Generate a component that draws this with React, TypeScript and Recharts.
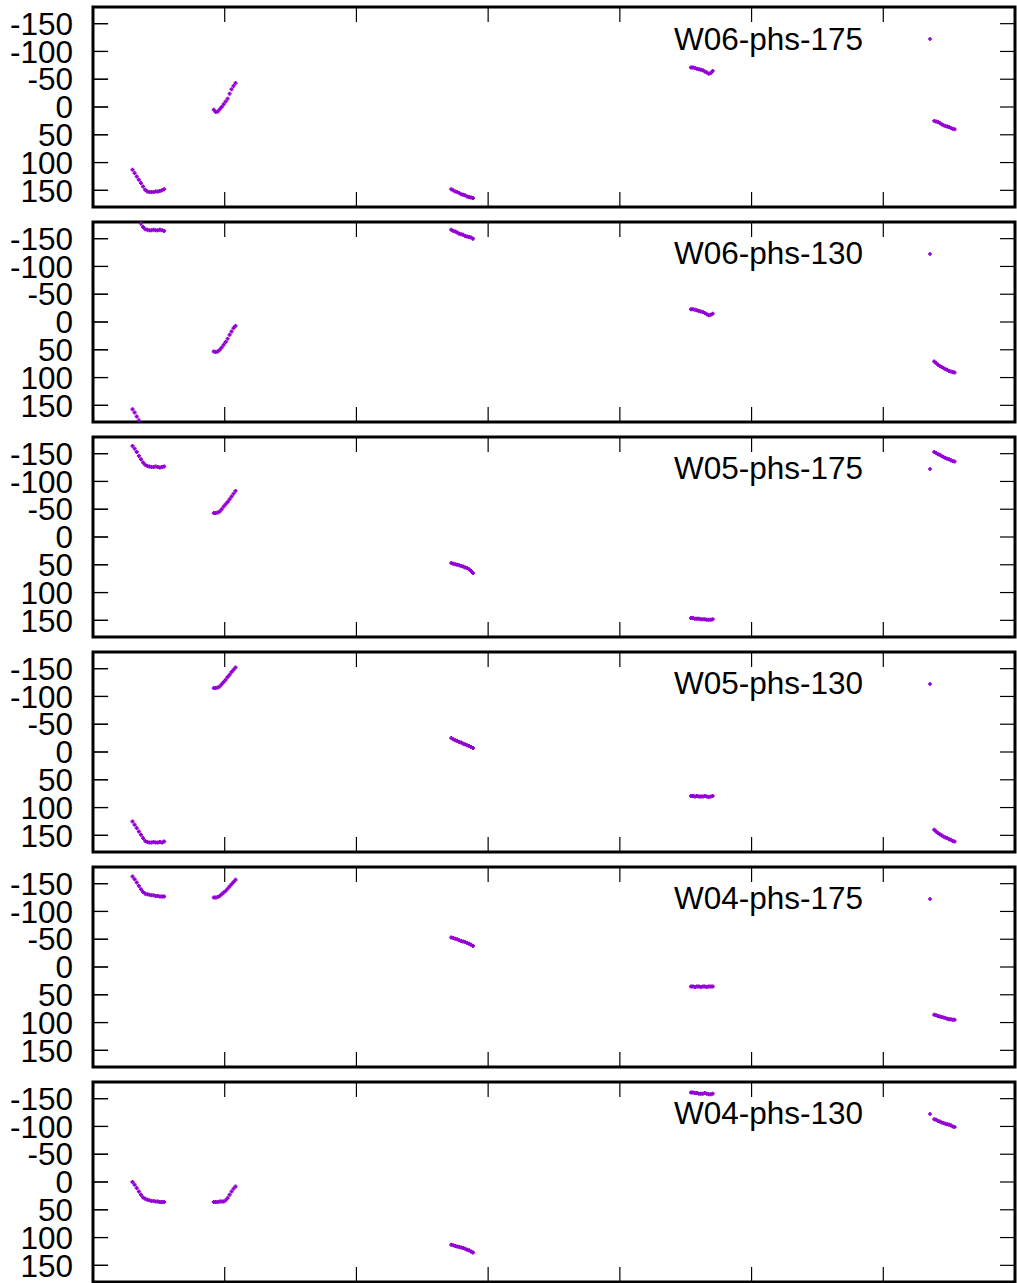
import React from "react";
import {
  ScatterChart,
  Scatter,
  XAxis,
  YAxis,
  ReferenceArea,
  ReferenceLine,
  Legend,
} from "recharts";

// sample times of the five scans (x units = one tick spacing)
const scan1T = [0.3, 0.316, 0.332, 0.348, 0.364, 0.38, 0.396, 0.412, 0.428, 0.444, 0.46, 0.476, 0.492, 0.508, 0.524, 0.54];
const scan2T = [0.917, 0.932, 0.947, 0.962, 0.977, 0.992, 1.007, 1.022, 1.037, 1.052, 1.067, 1.082];
const scan3T = [2.72, 2.735, 2.75, 2.765, 2.78, 2.795, 2.81, 2.825, 2.84, 2.855, 2.87, 2.885];
const scan4T = [4.54, 4.555, 4.57, 4.585, 4.6, 4.615, 4.63, 4.645, 4.66, 4.675, 4.69, 4.705];
const scan5T = [6.387, 6.401, 6.415, 6.429, 6.443, 6.457, 6.471, 6.485, 6.499, 6.513, 6.527, 6.541];

const xTicks = [1, 2, 3, 4, 5, 6];
const yTicks = [-150, -100, -50, 0, 50, 100, 150];

// phase (deg) per baseline, scans 1..5 in order
const w06p175 = [
  113, 119, 125, 131, 137, 143, 149, 152, 153, 153, 153, 152, 152, 151, 150, 148,
  5, 9, 8, 4, 0, -5, -10, -15, -24, -32, -38, -43,
  148, 150, 152, 153, 155, 157, 158, 159, 161, 162, 163, 164,
  -71, -71, -70, -69, -68, -67, -66, -64, -62, -60, -61, -65,
  25, 26, 27, 29, 31, 33, 34, 35, 36, 38, 39, 40,
];
const w06p130 = [
  157, 163, 170, 177, -177, -171, -167, -166, -165, -165, -166, -165, -165, -166, -165, -164,
  53, 54, 53, 50, 46, 41, 36, 30, 23, 17, 11, 7,
  -166, -164, -163, -161, -159, -158, -157, -155, -154, -153, -152, -150,
  -23, -23, -22, -21, -20, -19, -18, -16, -14, -12, -13, -15,
  71, 74, 77, 79, 81, 83, 85, 86, 88, 89, 90, 91,
];
const w05p175 = [
  -164, -159, -153, -146, -140, -134, -130, -128, -127, -126, -126, -127, -126, -125, -126, -127,
  -43, -43, -44, -46, -50, -55, -59, -63, -68, -73, -78, -83,
  47, 48, 49, 50, 51, 52, 53, 55, 56, 58, 61, 65,
  146, 146, 147, 147, 147, 148, 148, 148, 149, 149, 149, 148,
  -153, -151, -149, -148, -146, -144, -142, -141, -140, -138, -137, -136,
];
const w05p130 = [
  125, 131, 137, 143, 149, 155, 160, 162, 163, 163, 162, 163, 163, 162, 163, 161,
  -115, -115, -116, -118, -122, -126, -130, -135, -139, -144, -148, -152,
  -25, -23, -21, -20, -18, -17, -15, -14, -12, -11, -9, -7,
  79, 79, 80, 79, 80, 80, 80, 79, 80, 81, 80, 79,
  140, 143, 146, 148, 150, 152, 154, 155, 157, 158, 160, 161,
];
const w04p175 = [
  -163, -158, -152, -146, -140, -135, -132, -131, -130, -129, -129, -128, -128, -127, -127, -127,
  -125, -125, -126, -128, -131, -134, -137, -141, -145, -149, -153, -157,
  -53, -52, -51, -50, -48, -47, -46, -45, -43, -42, -40, -38,
  35, 35, 36, 35, 35, 36, 35, 35, 36, 35, 35, 35,
  86, 87, 88, 89, 90, 91, 92, 93, 94, 94, 95, 95,
];
const w04p130 = [
  0, 5, 11, 17, 23, 28, 30, 32, 33, 34, 34, 35, 35, 36, 36, 36,
  36, 36, 36, 35, 35, 35, 33, 29, 23, 17, 12, 8,
  113, 114, 115, 116, 117, 118, 119, 120, 122, 123, 125, 127,
  -161, -161, -160, -160, -159, -159, -159, -160, -159, -158, -158, -159,
  -113, -112, -110, -109, -107, -106, -105, -104, -103, -102, -100, -99,
];

const panelNames = ["W06-phs-175", "W06-phs-130", "W05-phs-175", "W05-phs-130", "W04-phs-175", "W04-phs-130"];
const panelValues = [w06p175, w06p130, w05p175, w05p130, w04p175, w04p130];

const allTimes = [...scan1T, ...scan2T, ...scan3T, ...scan4T, ...scan5T];

const W = 1017;
const H = 215;
const PITCH = 214.9;
const COLOR = "#9400D3";
const FONT = "'Liberation Sans', Arial, sans-serif";
const FS = 31.5;
const TL = 15; // inward tick length (px)
const TL_X = 0.115; // same length for the left ticks, in x units
const LABEL_GAP = 20;

// small "+" like gnuplot point
const PlusDot = (props: any) => {
  const { cx, cy } = props;
  if (cx == null || cy == null) return null;
  return (
    <path
      d={`M${cx - 2},${cy}h4M${cx},${cy - 2}v4`}
      stroke={COLOR}
      strokeWidth={1.9}
    />
  );
};

const NoDot = () => <g />;

const LeftLabel = (props: any) => (
  <text
    x={Number(props.x)}
    y={Number(props.y)}
    dy={FS * 0.355}
    textAnchor="end"
    fill="#000"
    fontSize={FS}
    fontFamily={FONT}
  >
    {props.payload.value}
  </text>
);

// mirrored left axis sits on the plot's left edge: tick goes inward (right)
const LeftInTick = (props: any) => {
  const x = Number(props.x);
  const y = Number(props.y);
  return <line x1={x} x2={x + TL} y1={y} y2={y} stroke="#000" strokeWidth={1.2} />;
};

const RightTick = (props: any) => {
  const x = Number(props.x);
  const y = Number(props.y);
  return <line x1={x} x2={x - TL} y1={y} y2={y} stroke="#000" strokeWidth={1.2} />;
};

const BottomTick = (props: any) => {
  const x = Number(props.x);
  const y = Number(props.y);
  return <line x1={x} x2={x} y1={y} y2={y - TL} stroke="#000" strokeWidth={1.2} />;
};

const TopTick = (props: any) => {
  const x = Number(props.x);
  const y = Number(props.y);
  return <line x1={x} x2={x} y1={y} y2={y + TL} stroke="#000" strokeWidth={1.2} />;
};

const KeyBox = ({ payload, name }: any) => {
  const label = payload?.[0]?.value ?? name;
  return (
    <div style={{ position: "relative", width: "100%", height: "100%" }}>
      <span
        style={{
          position: "absolute",
          right: W - 863,
          top: 23.5,
          fontSize: FS,
          lineHeight: 1,
          fontFamily: FONT,
          color: "#000",
          whiteSpace: "nowrap",
        }}
      >
        {label}
      </span>
      <svg style={{ position: "absolute", left: 926, top: 35 }} width={8} height={8}>
        <path d="M2,4h4M4,2v4" stroke={COLOR} strokeWidth={1.6} />
      </svg>
    </div>
  );
};

function Panel({ name, values, index }: { name: string; values: number[]; index: number }) {
  const data = allTimes.map((t, i) => ({ t, v: values[i] }));
  return (
    <div style={{ position: "absolute", left: 0, top: index * PITCH, width: W, height: H }}>
      <ScatterChart width={W} height={H} margin={{ top: 6, right: 1, bottom: 7, left: 13 }}>
        <XAxis
          xAxisId="b"
          type="number"
          dataKey="t"
          domain={[0, 7]}
          ticks={xTicks}
          interval={0}
          height={1}
          tickSize={0}
          tickMargin={0}
          tick={<BottomTick />}
          tickLine={false}
          axisLine={false}
        />
        <XAxis
          xAxisId="t"
          orientation="top"
          type="number"
          dataKey="t"
          domain={[0, 7]}
          ticks={xTicks}
          interval={0}
          height={1}
          tickSize={0}
          tickMargin={0}
          tick={<TopTick />}
          tickLine={false}
          axisLine={false}
        />
        <YAxis
          yAxisId="l"
          type="number"
          dataKey="v"
          domain={[-180, 180]}
          reversed
          ticks={yTicks}
          interval={0}
          width={80}
          tickSize={0}
          tickMargin={LABEL_GAP}
          tick={<LeftLabel />}
          tickLine={false}
          axisLine={false}
        />
        <YAxis
          yAxisId="lm"
          orientation="left"
          mirror
          type="number"
          dataKey="v"
          domain={[-180, 180]}
          reversed
          ticks={yTicks}
          interval={0}
          width={1}
          tickSize={0}
          tickMargin={0}
          tick={<LeftInTick />}
          tickLine={false}
          axisLine={false}
        />
        <YAxis
          yAxisId="r"
          orientation="right"
          type="number"
          dataKey="v"
          domain={[-180, 180]}
          reversed
          ticks={yTicks}
          interval={0}
          width={1}
          tickSize={0}
          tickMargin={0}
          tick={<RightTick />}
          tickLine={false}
          axisLine={false}
        />
        {/* inward ticks on the left edge, drawn in data space as well */}
        {yTicks.map((v) => (
          <ReferenceLine
            key={v}
            xAxisId="b"
            yAxisId="l"
            segment={[{ x: 0, y: v }, { x: TL_X, y: v }]}
            stroke="#000"
            strokeWidth={1.2}
            ifOverflow="visible"
          />
        ))}
        <ReferenceArea
          xAxisId="b"
          yAxisId="l"
          x1={0}
          x2={7}
          y1={-180}
          y2={180}
          fill="none"
          fillOpacity={0}
          stroke="#000"
          strokeWidth={3}
        />
        <Legend
          layout="vertical"
          align="center"
          verticalAlign="middle"
          wrapperStyle={{ position: "absolute", left: 0, top: 0, width: W, height: H, pointerEvents: "none" }}
          content={(p: any) => <KeyBox {...p} name={name} />}
        />
        <Scatter
          xAxisId="b"
          yAxisId="l"
          name={name}
          data={data}
          fill={COLOR}
          shape={<PlusDot />}
          isAnimationActive={false}
        />
        {/* same data bound to the mirror axes so they get ticks; draws nothing */}
        <Scatter
          xAxisId="t"
          yAxisId="r"
          name={name + " mirror"}
          data={data}
          fill="none"
          legendType="none"
          shape={<NoDot />}
          isAnimationActive={false}
        />
        <Scatter
          xAxisId="b"
          yAxisId="lm"
          name={name + " mirror left"}
          data={data}
          fill="none"
          legendType="none"
          shape={<NoDot />}
          isAnimationActive={false}
        />
      </ScatterChart>
    </div>
  );
}

export default function App() {
  return (
    <div style={{ position: "absolute", left: 0, top: 0, width: W, height: 1283, background: "#fff" }}>
      {panelNames.map((n, i) => (
        <Panel key={n} name={n} values={panelValues[i]} index={i} />
      ))}
    </div>
  );
}
